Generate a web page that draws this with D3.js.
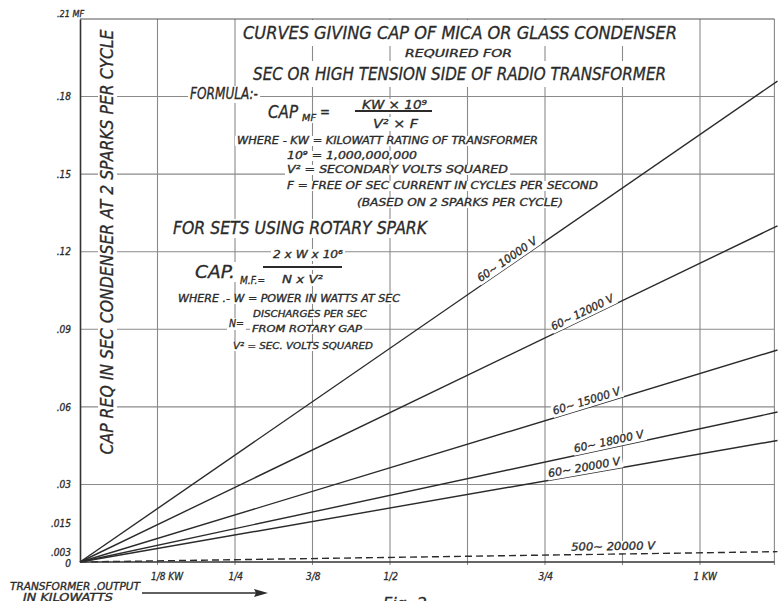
<!DOCTYPE html>
<html>
<head>
<meta charset="utf-8">
<script src="https://cdn.jsdelivr.net/npm/d3@7"></script>
<style>
  body { margin: 0; background: #fff; }
  svg { display: block; }
  text { font-family: "DejaVu Sans Condensed", "DejaVu Sans", sans-serif; font-style: italic; fill: #2b2b2b; stroke: #2b2b2b; stroke-width: 0.3px; }
</style>
</head>
<body>
<svg id="chart" width="778" height="601"></svg>
<script>

// kilowatt axis
let kwGrid = [1/8, 2/8, 3/8, 4/8, 5/8, 6/8, 7/8, 1]
let kwTicks = [1/8, 1/4, 3/8, 1/2, 3/4, 1]
let kwTickLabels = ["1/8 KW", "1/4", "3/8", "1/2", "3/4", "1 KW"]

// capacity axis (microfarads)
let capGrid = [0.03, 0.06, 0.09, 0.12, 0.15, 0.18]
let capTicks = [0, 0.003, 0.015, 0.03, 0.06, 0.09, 0.12, 0.15, 0.18]
let capTickLabels = ["0", ".003", ".015", ".03", ".06", ".09", ".12", ".15", ".18"]

// curves: capacity at 0 KW and at the right edge (1.125 KW)
let curveNames = ["60~ 10000 V", "60~ 12000 V", "60~ 15000 V", "60~ 18000 V", "60~ 20000 V", "500~ 20000 V"]
let curveKw = [0, 1.125]
let curve10000 = [0, 0.186]
let curve12000 = [0, 0.130]
let curve15000 = [0, 0.082]
let curve18000 = [0, 0.058]
let curve20000 = [0, 0.047]
let curve500 = [0, 0.004]
let curveCaps = [curve10000, curve12000, curve15000, curve18000, curve20000, curve500]
let labelKw = [0.695, 0.815, 0.82, 0.855, 0.815, 0.86]

let svg = d3.select("#chart")
let ink = "#2b2b2b"
let gridInk = "#8a8a8a"

let x = d3.scaleLinear().domain([0, 1]).range([80, 700])
let y = d3.scaleLinear().domain([0, 0.21]).range([562, 19])
let rightKw = 1.12

let gridLayer = svg.append("g")
let maskLayer = svg.append("g")
let textLayer = svg.append("g")
let curveLayer = svg.append("g")
let labelLayer = svg.append("g")

// grid
gridLayer.selectAll(".vgrid")
  .data(kwGrid.concat([rightKw]))
  .enter()
  .append("line")
  .attr("x1", function(d) { return x(d) })
  .attr("x2", function(d) { return x(d) })
  .attr("y1", y(0.21))
  .attr("y2", y(0) + 3)
  .style("stroke", gridInk)
  .style("stroke-width", 1.1)

gridLayer.selectAll(".hgrid")
  .data(capGrid.concat([0.21]))
  .enter()
  .append("line")
  .attr("x1", x(0))
  .attr("x2", x(rightKw))
  .attr("y1", function(d) { return y(d) })
  .attr("y2", function(d) { return y(d) })
  .style("stroke", function(d) { return d == 0.21 ? "#555" : gridInk })
  .style("stroke-width", 1.1)

// axes
let yAxis = d3.axisLeft(y)
  .tickValues(capTicks)
  .tickFormat(function(d, i) { return capTickLabels[i] })
  .tickSize(0)
  .tickPadding(9)

let yG = svg.append("g").attr("transform", "translate(" + x(0) + ",0)").call(yAxis)
yG.select(".domain").style("stroke", "#333").style("stroke-width", 1.6)
yG.selectAll("text").style("font-size", "10px").style("font-family", null)
  .attr("dy", function(d) { return d == 0.003 ? "0.1em" : d == 0 ? "0.45em" : "0.32em" })

let xAxis = d3.axisBottom(x)
  .tickValues(kwTicks)
  .tickFormat(function(d, i) { return kwTickLabels[i] })
  .tickSize(0)
  .tickPadding(11)

let xG = svg.append("g").attr("transform", "translate(0," + y(0) + ")").call(xAxis)
xG.select(".domain").attr("d", "M" + x(0) + ",0H" + x(rightKw)).style("stroke", "#333").style("stroke-width", 1.6)
xG.selectAll("text").style("font-size", "10px").style("font-family", null)
  .attr("text-anchor", "start").attr("dx", -7)

svg.append("text").attr("x", 57).attr("y", 17).style("font-size", "9px").text(".21 MF")

// text with a white patch behind it, so the grid breaks round it
function note(layer, bg, px, py, str, size, len, opts) {
  opts = opts || {}
  let t = layer.append("text")
    .attr("x", px)
    .attr("y", py)
    .style("font-size", size + "px")
    .text(str)
  if (opts.anchor) t.attr("text-anchor", opts.anchor)
  if (len) t.attr("textLength", len).attr("lengthAdjust", "spacingAndGlyphs")
  if (bg) {
    let b = t.node().getBBox()
    let pad = opts.pad == null ? 2 : opts.pad
    let vpad = opts.vpad == null ? 0 : opts.vpad
    bg.append("rect")
      .attr("x", b.x - pad)
      .attr("y", b.y + 1 - vpad)
      .attr("width", b.width + 2 * pad)
      .attr("height", b.height - 1 + 2 * vpad)
      .attr("fill", "#fff")
  }
  return t
}

// title block
note(textLayer, maskLayer, 243, 39, "CURVES GIVING CAP OF MICA OR GLASS CONDENSER", 18, 434, {vpad: 3})
note(textLayer, maskLayer, 405, 57, "REQUIRED     FOR", 10, 107, {vpad: 3})
note(textLayer, maskLayer, 253, 80, "SEC OR HIGH TENSION SIDE OF RADIO TRANSFORMER", 18, 413, {vpad: 3})

// first formula
note(textLayer, maskLayer, 190, 99, "FORMULA:-", 15, 68)
note(textLayer, maskLayer, 268, 118, "CAP", 17, 30)
note(textLayer, maskLayer, 302, 121, "MF", 9, 14)
note(textLayer, maskLayer, 320, 117, "=", 14, 10)
note(textLayer, maskLayer, 362, 109, "KW × 10⁹", 12, 65)
note(textLayer, maskLayer, 373, 128, "V² × F", 13, 45)
textLayer.append("line").attr("x1", 355).attr("x2", 432).attr("y1", 111).attr("y2", 111)
  .style("stroke", ink).style("stroke-width", 2)
maskLayer.append("rect").attr("x", 350).attr("y", 108).attr("width", 87).attr("height", 6).attr("fill", "#fff")
note(textLayer, maskLayer, 237, 144, "WHERE - KW = KILOWATT RATING OF TRANSFORMER", 10, 301)
note(textLayer, maskLayer, 287, 159, "10⁹  =  1,000,000,000", 10, 130)
note(textLayer, maskLayer, 287, 173, "V²  =  SECONDARY  VOLTS  SQUARED", 10, 221)
note(textLayer, maskLayer, 287, 189, "F    =  FREE OF SEC CURRENT IN CYCLES PER SECOND", 10, 311)
note(textLayer, maskLayer, 357, 206, "(BASED ON 2 SPARKS PER CYCLE)", 10, 206)

// rotary spark formula
note(textLayer, maskLayer, 173, 234, "FOR SETS USING ROTARY SPARK", 17, 254)
note(textLayer, maskLayer, 195, 278, "CAP.", 18, 40)
note(textLayer, maskLayer, 240, 284, "M.F.=", 10, 25)
note(textLayer, maskLayer, 273, 258, "2 x W x 10⁶", 11, 70)
note(textLayer, maskLayer, 282, 283, "N x V²", 11, 41)
textLayer.append("line").attr("x1", 263).attr("x2", 342).attr("y1", 267).attr("y2", 267)
  .style("stroke", ink).style("stroke-width", 2)
maskLayer.append("rect").attr("x", 258).attr("y", 264).attr("width", 89).attr("height", 6).attr("fill", "#fff")
note(textLayer, maskLayer, 178, 302, "WHERE .-  W = POWER IN WATTS AT SEC", 10, 222)
note(textLayer, maskLayer, 229, 327, "N=", 11, 15)
note(textLayer, maskLayer, 253, 317, "DISCHARGES PER SEC", 9, 114)
note(textLayer, maskLayer, 252, 332, "FROM ROTARY GAP", 9, 110)
note(textLayer, maskLayer, 233, 349, "V² = SEC. VOLTS SQUARED", 9, 140)

// y title, rotated
let yTitle = svg.append("g").attr("transform", "translate(113,242) rotate(-90)")
let yBg = yTitle.append("g")
note(yTitle, yBg, 0, 0, "CAP REQ IN SEC CONDENSER AT 2 SPARKS PER CYCLE", 17, 425, {anchor: "middle"})

// curves
let line = d3.line()
  .x(function(d) { return x(d[0]) })
  .y(function(d) { return y(d[1]) })

curveLayer.selectAll(".curve")
  .data(curveCaps)
  .enter()
  .append("path")
  .attr("d", function(caps) {
    return line(curveKw.map(function(k, i) { return [k, caps[i]] }))
  })
  .attr("fill", "none")
  .style("stroke", ink)
  .style("stroke-width", 1.4)
  .style("stroke-dasharray", function(caps, i) { return i == 5 ? "7,4" : null })

// curve labels, laid along each line
curveNames.forEach(function(name, i) {
  let caps = curveCaps[i]
  let k = labelKw[i]
  let c = caps[0] + (caps[1] - caps[0]) * (k - curveKw[0]) / (curveKw[1] - curveKw[0])
  let px = x(k)
  let py = y(c)
  let angle = Math.atan2(y(caps[1]) - y(caps[0]), x(curveKw[1]) - x(curveKw[0])) * 180 / Math.PI
  let lens = [70, 68, 70, 71, 73, 84]
  let g = labelLayer.append("g").attr("transform", "translate(" + px + "," + py + ") rotate(" + angle + ")")
  let bg = g.append("g")
  note(g, bg, 0, i == 5 ? -4 : -3, name, 11, lens[i], {anchor: "middle", pad: 1})
})

// bottom notes
note(svg, null, 10, 590, "TRANSFORMER .OUTPUT", 10, 130)
note(svg, null, 23, 601, "IN  KILOWATTS", 10, 90)
svg.append("line").attr("x1", 142).attr("x2", 258).attr("y1", 593).attr("y2", 593)
  .style("stroke", ink).style("stroke-width", 1.5)
svg.append("path").attr("d", "M268,593 L254,589 L256,593 L254,597 Z").attr("fill", ink)
note(svg, null, 383, 609, "Fig. 2", 15, 44)

</script>
</body>
</html>
